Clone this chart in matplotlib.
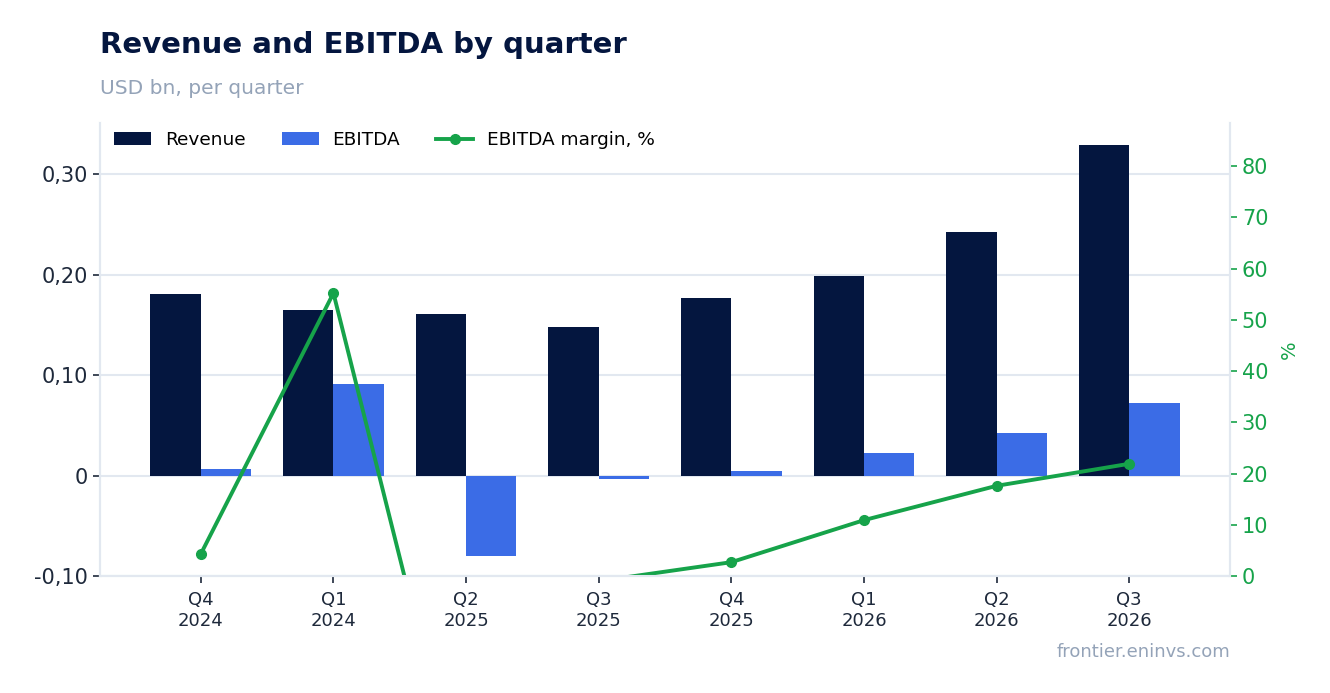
import matplotlib
matplotlib.use("Agg")
import matplotlib.pyplot as plt
import numpy as np
from matplotlib.ticker import FuncFormatter

quarters = ["Q4\n2024", "Q1\n2024", "Q2\n2025", "Q3\n2025",
            "Q4\n2025", "Q1\n2026", "Q2\n2026", "Q3\n2026"]
revenue = [0.181, 0.165, 0.161, 0.148, 0.177, 0.199, 0.242, 0.329]
ebitda = [0.007, 0.0915, -0.080, -0.003, 0.005, 0.022, 0.042, 0.072]
margin = [4.3, 55.2, -48.0, -1.0, 2.7, 10.9, 17.6, 21.9]

NAVY = "#04163f"
BLUE = "#3b6ce6"
GREEN = "#16a34a"
GRID = "#e2e8f0"
TXT = "#1e293b"

fig = plt.figure(figsize=(13.3, 6.93), dpi=100)
ax = fig.add_axes([0.0752, 0.1688, 0.8496, 0.6537])
ax2 = ax.twinx()

x = np.arange(len(quarters))
w = 0.38
ax.bar(x - w / 2, revenue, w, color=NAVY, label="Revenue", zorder=2)
ax.bar(x + w / 2, ebitda, w, color=BLUE, label="EBITDA", zorder=2)
ln, = ax2.plot(x, margin, color=GREEN, lw=2.8, marker="o", ms=7,
               label="EBITDA margin, %")

ax.set_xlim(-0.76, 7.76)
ax.set_ylim(-0.10, 0.351)
ax.set_yticks([-0.10, 0, 0.10, 0.20, 0.30])


def fmt(v, _):
    if abs(v) < 1e-9:
        return "0"
    return f"{v:.2f}".replace(".", ",")


ax.yaxis.set_major_formatter(FuncFormatter(fmt))
ax.set_xticks(x)
ax.set_xticklabels(quarters)
ax.grid(axis="y", color=GRID, lw=1.5)
ax.set_axisbelow(True)

ax2.set_ylim(0, 88.4)
ax2.set_yticks(range(0, 81, 10))
ax2.set_ylabel("%", color=GREEN, fontsize=14, labelpad=8)

for a in (ax, ax2):
    for s in a.spines.values():
        s.set_color(GRID)
        s.set_linewidth(1.5)
    a.spines["top"].set_visible(False)

ax.tick_params(axis="y", labelsize=15, colors=TXT, length=5, width=1.2)
ax.tick_params(axis="x", labelsize=13, colors=TXT, length=5, width=1.2, pad=6)
ax2.tick_params(axis="y", labelsize=15, colors=GREEN, length=5, width=1.2)

h1, l1 = ax.get_legend_handles_labels()
ax.legend(h1 + [ln], l1 + [ln.get_label()], loc="upper left", ncol=3,
          frameon=False, fontsize=13.3, bbox_to_anchor=(-0.002, 1.019),
          columnspacing=1.95, handlelength=2.0, handletextpad=0.75)

fig.text(0.0752, 0.935, "Revenue and EBITDA by quarter", fontsize=21,
         fontweight="bold", color=NAVY, va="center")
fig.text(0.0752, 0.873, "USD bn, per quarter", fontsize=14.5,
         color="#94a3b8", va="center")
fig.text(0.9248, 0.059, "frontier.eninvs.com", fontsize=13,
         color="#94a3b8", ha="right", va="center")

fig.savefig("out.png", dpi=100)
